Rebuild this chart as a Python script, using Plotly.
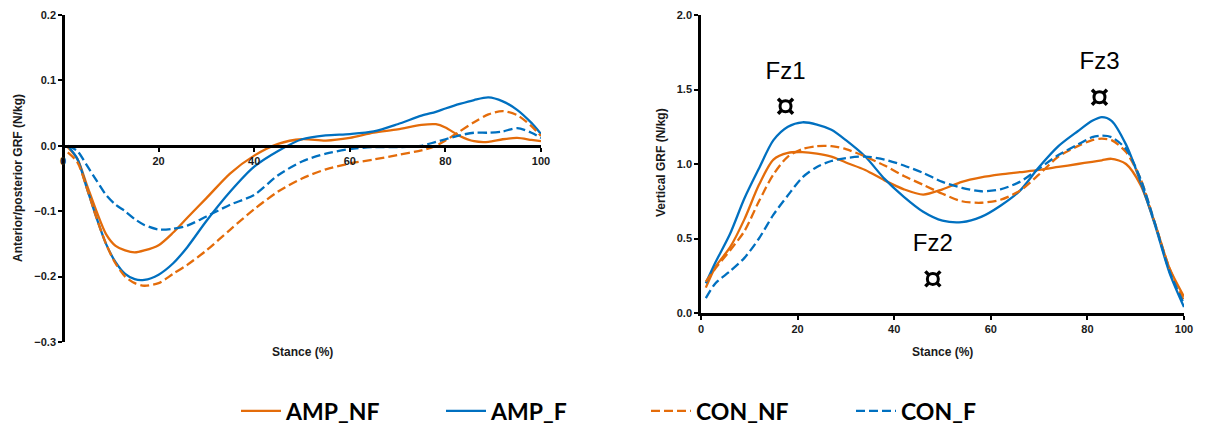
import plotly.graph_objects as go

# ---------------- data ----------------
ap_x = [1, 3, 5, 7, 9, 11, 13, 15, 17, 20, 23, 26, 30, 35, 40, 45, 50, 55, 60, 65, 70, 75, 78, 80, 83, 86, 89, 92, 95, 98, 100]
ap_amp_nf = [-0.002, -0.02, -0.06, -0.10, -0.135, -0.153, -0.16, -0.163, -0.16, -0.152, -0.133, -0.11, -0.08, -0.042, -0.015,
             0.003, 0.01, 0.008, 0.012, 0.02, 0.025, 0.032, 0.033, 0.028, 0.015, 0.007, 0.006, 0.01, 0.012, 0.009, 0.007]
ap_amp_f = [0.0, -0.02, -0.065, -0.11, -0.15, -0.178, -0.196, -0.204, -0.205, -0.197, -0.18, -0.155, -0.115, -0.07, -0.032,
            -0.008, 0.01, 0.016, 0.018, 0.022, 0.033, 0.046, 0.052, 0.057, 0.064, 0.07, 0.074, 0.068, 0.055, 0.035, 0.018]
ap_con_nf = [-0.01, -0.025, -0.065, -0.11, -0.15, -0.18, -0.2, -0.21, -0.214, -0.21, -0.196, -0.182, -0.16, -0.128, -0.097,
             -0.07, -0.05, -0.036, -0.027, -0.021, -0.014, -0.007, 0.0, 0.008, 0.022, 0.036, 0.048, 0.053, 0.047, 0.03, 0.015]
ap_con_f = [0.0, -0.008, -0.03, -0.053, -0.075, -0.09, -0.1, -0.112, -0.121, -0.128, -0.127, -0.122, -0.108, -0.09, -0.075,
            -0.045, -0.024, -0.012, -0.005, -0.002, -0.002, 0.0, 0.006, 0.01, 0.016, 0.02, 0.02, 0.022, 0.027, 0.02, 0.012]

vt_x = [1, 3, 6, 9, 12, 15, 18, 21, 24, 27, 30, 34, 38, 42, 46, 50, 54, 58, 62, 66, 70, 74, 78, 81, 83, 85, 88, 91, 94, 97, 100]
vt_amp_nf = [0.17, 0.31, 0.44, 0.63, 0.86, 1.03, 1.075, 1.08, 1.07, 1.05, 1.01, 0.96, 0.89, 0.83, 0.795, 0.83,
             0.88, 0.91, 0.93, 0.945, 0.96, 0.98, 1.0, 1.015, 1.025, 1.035, 1.0, 0.86, 0.6, 0.3, 0.11]
vt_amp_f = [0.2, 0.34, 0.53, 0.77, 0.97, 1.16, 1.25, 1.28, 1.265, 1.23, 1.16, 1.05, 0.9, 0.78, 0.68, 0.62,
            0.61, 0.645, 0.72, 0.82, 0.98, 1.12, 1.22, 1.29, 1.315, 1.29, 1.13, 0.88, 0.59, 0.27, 0.04]
vt_con_nf = [0.21, 0.3, 0.42, 0.55, 0.75, 0.93, 1.05, 1.1, 1.12, 1.12, 1.1, 1.05, 0.99, 0.92, 0.86, 0.8,
             0.75, 0.74, 0.76, 0.82, 0.93, 1.05, 1.12, 1.16, 1.17, 1.16, 1.08, 0.9, 0.6, 0.3, 0.08]
vt_con_f = [0.1, 0.2, 0.28, 0.37, 0.5, 0.66, 0.79, 0.91, 0.98, 1.02, 1.04, 1.05, 1.03, 0.99, 0.94, 0.88,
            0.84, 0.817, 0.83, 0.88, 0.97, 1.06, 1.13, 1.18, 1.19, 1.18, 1.1, 0.9, 0.6, 0.28, 0.06]

fz_labels = ["Fz1", "Fz2", "Fz3"]
fz_x = [17.5, 48, 82.5]
fz_marker_y = [1.387, 0.229, 1.448]
fz_label_y = [1.61, 0.458, 1.677]

series_names = ["AMP_NF", "AMP_F", "CON_NF", "CON_F"]
series_colors = ["#E46C0A", "#0070C0", "#E46C0A", "#0070C0"]
series_dash = ["solid", "solid", "9px,4px", "9px,4px"]

ap_series = [ap_amp_nf, ap_amp_f, ap_con_nf, ap_con_f]
vt_series = [vt_amp_nf, vt_amp_f, vt_con_nf, vt_con_f]

# ---------------- figure ----------------
W, H = 1209, 437
fig = go.Figure()

for i, name in enumerate(series_names):
    fig.add_trace(go.Scatter(
        x=ap_x, y=ap_series[i], mode="lines", name=name, legendgroup=name,
        line=dict(color=series_colors[i], width=2.3, dash=series_dash[i], shape="spline", smoothing=0.8),
        xaxis="x", yaxis="y", showlegend=True))
for i, name in enumerate(series_names):
    fig.add_trace(go.Scatter(
        x=vt_x, y=vt_series[i], mode="lines", name=name, legendgroup=name,
        line=dict(color=series_colors[i], width=2.3, dash=series_dash[i], shape="spline", smoothing=0.8),
        xaxis="x2", yaxis="y2", showlegend=False))

# Fz markers (thick ring with nubs, like the ¤ glyph)
fig.add_trace(go.Scatter(
    x=fz_x, y=fz_marker_y, mode="markers",
    marker=dict(symbol="x-thin", size=15, line=dict(color="black", width=3.5)),
    xaxis="x2", yaxis="y2", showlegend=False, hoverinfo="skip"))
fig.add_trace(go.Scatter(
    x=fz_x, y=fz_marker_y, mode="markers",
    marker=dict(symbol="circle", size=11, color="white", line=dict(color="black", width=3)),
    xaxis="x2", yaxis="y2", showlegend=False, hoverinfo="skip"))
fig.add_trace(go.Scatter(
    x=fz_x, y=fz_label_y, mode="text", text=fz_labels,
    textfont=dict(family="Liberation Sans, Arial", size=24, color="black"),
    xaxis="x2", yaxis="y2", showlegend=False, hoverinfo="skip"))

def px_x(p):
    return p / W

def px_y(p):
    return 1 - p / H

tickfont = dict(family="Liberation Sans, Arial", size=11, color="#1a1a1a", weight="bold")
titlefont = dict(family="Liberation Sans, Arial", size=12, color="#1a1a1a", weight="bold")

left_dom = [px_x(63), px_x(541)]
left_ydom = [px_y(342), px_y(15)]
right_dom = [px_x(701), px_x(1184)]
right_ydom = [px_y(313), px_y(15)]

zero_pos = left_ydom[0] + (left_ydom[1] - left_ydom[0]) * (0.3 / 0.5)

fig.update_layout(
    width=W, height=H,
    margin=dict(l=0, r=0, t=0, b=0, pad=0, autoexpand=False),
    paper_bgcolor="white", plot_bgcolor="white",
    showlegend=True,
    legend=dict(orientation="h", x=px_x(236), xanchor="left", y=px_y(411), yanchor="middle",
                entrywidth=150, entrywidthmode="pixels",
                font=dict(family="Lato, Carlito, Calibri", size=23, color="black", weight="bold"),
                itemwidth=40, tracegroupgap=0, bgcolor="rgba(0,0,0,0)"),
    xaxis=dict(domain=left_dom, anchor="free", position=zero_pos, range=[0, 100],
               tickvals=[0, 20, 40, 60, 80, 100], showgrid=False, zeroline=False,
               showline=True, linecolor="black", linewidth=2.5,
               ticks="outside", ticklen=4, tickwidth=1.5, tickcolor="black",
               tickfont=tickfont),
    yaxis=dict(domain=left_ydom, anchor="free", position=left_dom[0], range=[-0.3, 0.2],
               tickvals=[-0.3, -0.2, -0.1, 0.0, 0.1, 0.2], tickformat=".1f",
               showgrid=False, zeroline=False,
               showline=True, linecolor="black", linewidth=2.5,
               ticks="outside", ticklen=4, tickwidth=1.5, tickcolor="black",
               tickfont=tickfont),
    xaxis2=dict(domain=right_dom, anchor="y2", range=[0, 100],
                tickvals=[0, 20, 40, 60, 80, 100], showgrid=False, zeroline=False,
                showline=True, linecolor="black", linewidth=2.5,
                ticks="outside", ticklen=4, tickwidth=1.5, tickcolor="black",
                tickfont=tickfont),
    yaxis2=dict(domain=right_ydom, anchor="x2", range=[0, 2.0],
                tickvals=[0, 0.5, 1.0, 1.5, 2.0], tickformat=".1f",
                showgrid=False, zeroline=False,
                showline=True, linecolor="black", linewidth=2.5,
                ticks="outside", ticklen=4, tickwidth=1.5, tickcolor="black",
                tickfont=tickfont),
    annotations=[
        dict(text="Stance (%)", x=px_x(302), y=px_y(352), xref="paper", yref="paper",
             showarrow=False, font=titlefont, xanchor="center", yanchor="middle"),
        dict(text="Stance (%)", x=px_x(942), y=px_y(352), xref="paper", yref="paper",
             showarrow=False, font=titlefont, xanchor="center", yanchor="middle"),
        dict(text="Anterior/posterior GRF (N/kg)", x=px_x(18), y=px_y(178), xref="paper", yref="paper",
             showarrow=False, font=titlefont, textangle=-90, xanchor="center", yanchor="middle"),
        dict(text="Vertical GRF (N/kg)", x=px_x(661), y=px_y(163), xref="paper", yref="paper",
             showarrow=False, font=titlefont, textangle=-90, xanchor="center", yanchor="middle"),
    ],
)

fig.write_html("out.html")
